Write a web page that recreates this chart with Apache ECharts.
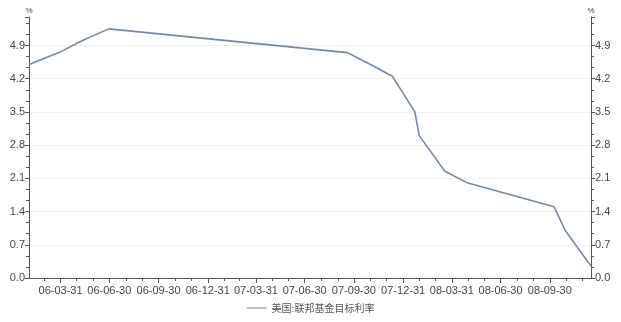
<!DOCTYPE html>
<html>
<head>
<meta charset="utf-8">
<script src="https://cdn.jsdelivr.net/npm/echarts@6/dist/echarts.min.js"></script>
<style>html,body{margin:0;padding:0;background:#fff;}#c{width:621px;height:322px;}</style>
</head>
<body>
<div id="c"></div>
<script>
// Data: Fed funds target rate change dates and levels (%)
var dates = ['2006-01-31','2006-03-28','2006-05-10','2006-06-29','2007-09-18','2007-10-31','2007-12-11','2008-01-22','2008-01-30','2008-03-18','2008-04-30','2008-10-08','2008-10-29','2008-12-16'];
var rates = [4.5, 4.75, 5.0, 5.25, 4.75, 4.5, 4.25, 3.5, 3.0, 2.25, 2.0, 1.5, 1.0, 0.25];
var seriesName = '美国:联邦基金目标利率';
var xStart = '2006-01-31';
var xEnd = '2008-12-16';
var quarterLabels = ['2006-03-31','2006-06-30','2006-09-30','2006-12-31','2007-03-31','2007-06-30','2007-09-30','2007-12-31','2008-03-31','2008-06-30','2008-09-30'];
var monthTicks = ['2006-02-28','2006-03-31','2006-04-30','2006-05-31','2006-06-30','2006-07-31','2006-08-31','2006-09-30','2006-10-31','2006-11-30','2006-12-31','2007-01-31','2007-02-28','2007-03-31','2007-04-30','2007-05-31','2007-06-30','2007-07-31','2007-08-31','2007-09-30','2007-10-31','2007-11-30','2007-12-31','2008-01-31','2008-02-29','2008-03-31','2008-04-30','2008-05-31','2008-06-30','2008-07-31','2008-08-31','2008-09-30','2008-10-31','2008-11-30'];

function ts(s){var p=s.split('-');return Date.UTC(+p[0],+p[1]-1,+p[2]);}
function pad(n){return (n<10?'0':'')+n;}
function fmt(v){var d=new Date(v);return pad(d.getUTCFullYear()%100)+'-'+pad(d.getUTCMonth()+1)+'-'+pad(d.getUTCDate());}

var data = dates.map(function(d,i){return [ts(d), rates[i]];});
var axisColor = '#555';
var labelColor = '#444';
var font = 'Liberation Sans';

var chart = echarts.init(document.getElementById('c'), null, {renderer:'canvas'});
var yCommon = {
  type:'value', min:0, max:5.5, interval:0.7,
  name:'%', nameLocation:'end', nameGap:2,
  nameTextStyle:{fontSize:8, color:labelColor, fontFamily:font},
  axisLine:{show:true, lineStyle:{color:axisColor, width:1}},
  axisTick:{show:true, inside:false, length:4, lineStyle:{color:axisColor}},
  minorTick:{show:true, splitNumber:3, length:3, lineStyle:{color:axisColor}},
  axisLabel:{color:labelColor, fontSize:11, fontFamily:font, margin:4, showMaxLabel:false,
    formatter:function(v){return v.toFixed(1);}}
};
chart.setOption({
  animation:false,
  grid:{left:29, right:30, top:17, bottom:44, containLabel:false},
  legend:{
    bottom:4, left:'center', itemWidth:20, itemHeight:8, itemGap:4,
    textStyle:{fontSize:10, color:'#555', fontFamily:'Noto Sans CJK SC'},
    data:[{name:seriesName, icon:'path://M0,4L20,4L20,5L0,5Z'}]
  },
  xAxis:[{
    type:'value', min:ts(xStart), max:ts(xEnd), position:'bottom',
    axisLine:{show:true, onZero:false, lineStyle:{color:axisColor, width:1}},
    axisTick:{show:true, length:5, customValues:quarterLabels.map(ts), lineStyle:{color:axisColor}},
    axisLabel:{customValues:quarterLabels.map(ts), formatter:function(v){return fmt(v);},
      color:labelColor, fontSize:11, fontFamily:font, margin:7},
    splitLine:{show:false}
  },{
    type:'value', min:ts(xStart), max:ts(xEnd), position:'bottom',
    axisLine:{show:false, onZero:false},
    axisTick:{show:true, length:3, customValues:monthTicks.map(ts), lineStyle:{color:axisColor}},
    axisLabel:{show:false},
    splitLine:{show:false}
  }],
  yAxis:[
    Object.assign({}, yCommon, {position:'left',
      splitLine:{show:true, showMaxLine:false, lineStyle:{color:'#efefef', width:1}}}),
    Object.assign({}, yCommon, {position:'right', splitLine:{show:false}})
  ],
  series:[{
    name:seriesName, type:'line', data:data, xAxisIndex:0, yAxisIndex:0,
    symbol:'none', lineStyle:{color:'#7388a6', width:1.6}, itemStyle:{color:'#7388a6'}
  }]
});
</script>
</body>
</html>
